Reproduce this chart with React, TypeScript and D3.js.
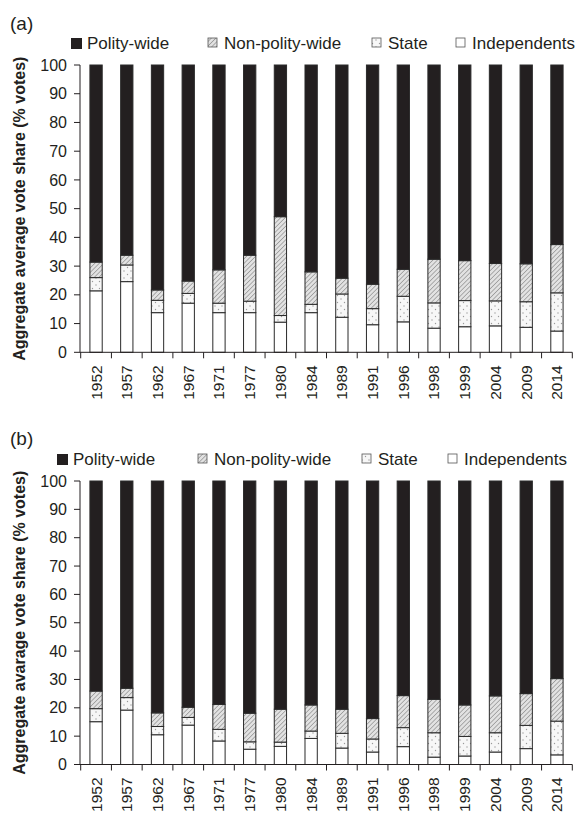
import * as React from "react"
import * as d3 from "d3"

const years = ["1952", "1957", "1962", "1967", "1971", "1977", "1980", "1984", "1989", "1991", "1996", "1998", "1999", "2004", "2009", "2014"]
const seriesNames = ["Polity-wide", "Non-polity-wide", "State", "Independents"]
const yTicks = [0, 10, 20, 30, 40, 50, 60, 70, 80, 90, 100]

// panel (a)
const indepA = [21.4, 24.6, 13.8, 17.1, 13.8, 13.8, 10.5, 13.8, 12.2, 9.6, 10.6, 8.4, 8.9, 9.2, 8.7, 7.4]
const stateA = [4.6, 5.8, 4.3, 3.4, 3.3, 4.0, 2.3, 2.9, 8.1, 5.6, 8.9, 8.8, 9.1, 8.7, 8.9, 13.3]
const nonPolityA = [5.4, 3.4, 3.6, 4.3, 11.6, 16.0, 34.4, 11.3, 5.5, 8.5, 9.4, 15.2, 13.9, 13.0, 13.2, 16.8]
const polityA = [68.6, 66.2, 78.3, 75.2, 71.3, 66.2, 52.8, 72.0, 74.2, 76.3, 71.1, 67.6, 68.1, 69.1, 69.2, 62.5]

// panel (b)
const indepB = [15.1, 19.2, 10.5, 13.9, 8.3, 5.4, 6.4, 9.2, 5.8, 4.4, 6.3, 2.6, 3.0, 4.4, 5.6, 3.4]
const stateB = [4.6, 4.4, 2.9, 2.7, 4.1, 2.6, 1.5, 2.6, 5.2, 4.6, 6.7, 8.6, 6.9, 6.8, 8.2, 11.9]
const nonPolityB = [6.2, 3.3, 4.8, 3.6, 8.8, 10.1, 11.6, 9.2, 8.5, 7.2, 11.3, 11.8, 11.1, 13.0, 11.2, 15.0]
const polityB = [74.1, 73.1, 81.8, 79.8, 78.8, 81.9, 80.5, 79.0, 80.5, 83.8, 75.7, 77.0, 79.0, 75.8, 75.0, 69.7]

const font = "'Liberation Sans', Arial, Helvetica, sans-serif"
const ink = "#231f20"
const fills = ["#231f20", "url(#hatch)", "url(#dots)", "#ffffff"]

function Panel(props) {
    const { top, y0, y100, label, title, indep, state, nonPolity, polity, legendX, legendY } = props
    const x = d3.scaleBand().domain(years).range([80.7, 572.3]).paddingInner(0.6).paddingOuter(0.3)
    const y = d3.scaleLinear().domain([0, 100]).range([y0, y100])
    const rows = years.map((yr, i) => ({ year: yr, ind: indep[i], st: state[i], np: nonPolity[i], pw: polity[i] }))
    const stacked = d3.stack().keys(["ind", "st", "np", "pw"])(rows)
    const step = x.step()
    const bounds = d3.range(years.length + 1).map((i) => 80.7 + i * step)

    return (
        <g>
            <text x={10} y={top} fontSize={19} fontFamily={font} fill={ink} dominantBaseline="central">{label}</text>
            {seriesNames.map((name, i) => (
                <g key={name}>
                    <rect x={legendX[i]} y={legendY - 5} width={i === 0 ? 11 : 9} height={i === 0 ? 11 : 9}
                        fill={fills[i]} stroke={i === 0 ? "none" : "#555"} strokeWidth={0.8} />
                    <text x={legendX[i] + 16} y={legendY} dy="0.35em" fontSize={17} fontFamily={font} fill={ink}>{name}</text>
                </g>
            ))}
            {stacked.map((layer, li) => (
                <g key={layer.key}>
                    {layer.map((d, i) => (
                        <rect key={i} x={x(years[i])} width={x.bandwidth()} y={y(d[1])} height={y(d[0]) - y(d[1])}
                            fill={fills[3 - li]} stroke="#2a2a2a" strokeWidth={1} />
                    ))}
                </g>
            ))}
            <line x1={80} x2={80} y1={y(0)} y2={y(100)} stroke={ink} strokeWidth={1} />
            {yTicks.map((t) => (
                <g key={t}>
                    <line x1={74} x2={80} y1={y(t)} y2={y(t)} stroke={ink} strokeWidth={1} />
                    <text x={67} y={y(t)} dy="0.35em" textAnchor="end" fontSize={16} fontFamily={font} fill={ink}>{t}</text>
                </g>
            ))}
            <line x1={80} x2={572.3} y1={y(0)} y2={y(0)} stroke={ink} strokeWidth={1} />
            {bounds.map((b, i) => (
                <line key={i} x1={b} x2={b} y1={y(0)} y2={y(0) + 6} stroke={ink} strokeWidth={1} />
            ))}
            {years.map((yr) => (
                <text key={yr} transform={`translate(${x(yr) + x.bandwidth() / 2},${y(0) + 13}) rotate(-90)`}
                    dy="0.35em" textAnchor="end" fontSize={15.5} fontFamily={font} fill={ink}>{yr}</text>
            ))}
            <text transform={`translate(19,${(y(0) + y(100)) / 2}) rotate(-90)`} dy="0.35em" textAnchor="middle"
                fontSize={16} fontWeight="bold" fontFamily={font} fill={ink}>{title}</text>
        </g>
    )
}

export default function App() {
    return (
        <svg width={581} height={813} style={{ position: "absolute", left: 0, top: 0, background: "#fff" }}>
            <defs>
                <pattern id="hatch" width={3.2} height={3.2} patternUnits="userSpaceOnUse" patternTransform="rotate(45)">
                    <rect width={3.2} height={3.2} fill="#e2e2e2" />
                    <line x1={0} y1={0} x2={0} y2={3.2} stroke="#8c8c8c" strokeWidth={1.3} />
                </pattern>
                <pattern id="dots" width={7} height={7} patternUnits="userSpaceOnUse">
                    <rect width={7} height={7} fill="#f7f7f7" />
                    <circle cx={1.5} cy={1.5} r={0.7} fill="#9a9a9a" />
                    <circle cx={5} cy={5} r={0.7} fill="#9a9a9a" />
                </pattern>
            </defs>
            <Panel top={23} y0={352.3} y100={65} label="(a)" title="Aggregate average vote share (% votes)"
                indep={indepA} state={stateA} nonPolity={nonPolityA} polity={polityA}
                legendX={[71, 208, 372, 456]} legendY={43} />
            <Panel top={438} y0={764.5} y100={481} label="(b)" title="Aggregate avarage vote share (% votes)"
                indep={indepB} state={stateB} nonPolity={nonPolityB} polity={polityB}
                legendX={[57, 198, 362, 448]} legendY={459} />
        </svg>
    )
}
